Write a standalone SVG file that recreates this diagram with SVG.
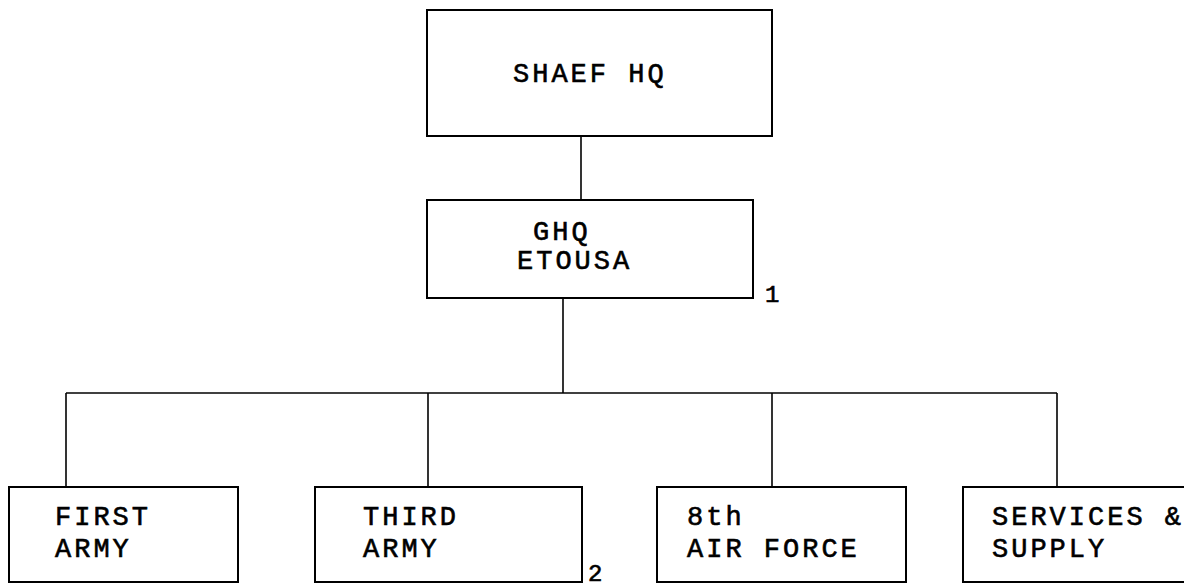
<svg xmlns="http://www.w3.org/2000/svg" width="1184" height="586" viewBox="0 0 1184 586">
<style>
.box{fill:#fff;stroke:#000;stroke-width:2}
.lbl{font-family:"Liberation Mono","DejaVu Sans Mono",monospace;font-size:27px;letter-spacing:3px;fill:#000;stroke:#000;stroke-width:0.6}
.note{font-family:"Liberation Mono","DejaVu Sans Mono",monospace;font-size:24px;fill:#000;stroke:#000;stroke-width:0.6}
.conn{fill:none;stroke:#000;stroke-width:1.6}
</style>
<rect width="1184" height="586" fill="#fff"/>
<g id="connectors">
<line class="conn" x1="581" y1="136" x2="581" y2="200"/>
<line class="conn" x1="563" y1="298" x2="563" y2="393"/>
<line class="conn" x1="66" y1="393" x2="1057" y2="393"/>
<line class="conn" x1="66" y1="393" x2="66" y2="487"/>
<line class="conn" x1="428" y1="393" x2="428" y2="487"/>
<line class="conn" x1="772" y1="393" x2="772" y2="487"/>
<line class="conn" x1="1057" y1="393" x2="1057" y2="487"/>
</g>
<g id="shaef">
<rect class="box" x="427" y="10" width="345" height="126"/>
<text class="lbl" x="513" y="82">SHAEF HQ</text>
</g>
<g id="ghq">
<rect class="box" x="427" y="200" width="326" height="98"/>
<text class="lbl" x="533" y="240">GHQ</text>
<text class="lbl" x="517" y="269">ETOUSA</text>
<text class="note" x="765" y="302">1</text>
</g>
<g id="first-army">
<rect class="box" x="9" y="487" width="229" height="95"/>
<text class="lbl" x="55" y="525">FIRST</text>
<text class="lbl" x="55" y="557">ARMY</text>
</g>
<g id="third-army">
<rect class="box" x="315" y="487" width="267" height="95"/>
<text class="lbl" x="363" y="525">THIRD</text>
<text class="lbl" x="363" y="557">ARMY</text>
<text class="note" x="588" y="581">2</text>
</g>
<g id="air-force">
<rect class="box" x="657" y="487" width="249" height="95"/>
<text class="lbl" x="687" y="525">8th</text>
<text class="lbl" x="687" y="557">AIR FORCE</text>
</g>
<g id="services">
<rect class="box" x="963" y="487" width="240" height="95"/>
<text class="lbl" x="992" y="525">SERVICES &amp;</text>
<text class="lbl" x="992" y="557">SUPPLY</text>
</g>
</svg>
